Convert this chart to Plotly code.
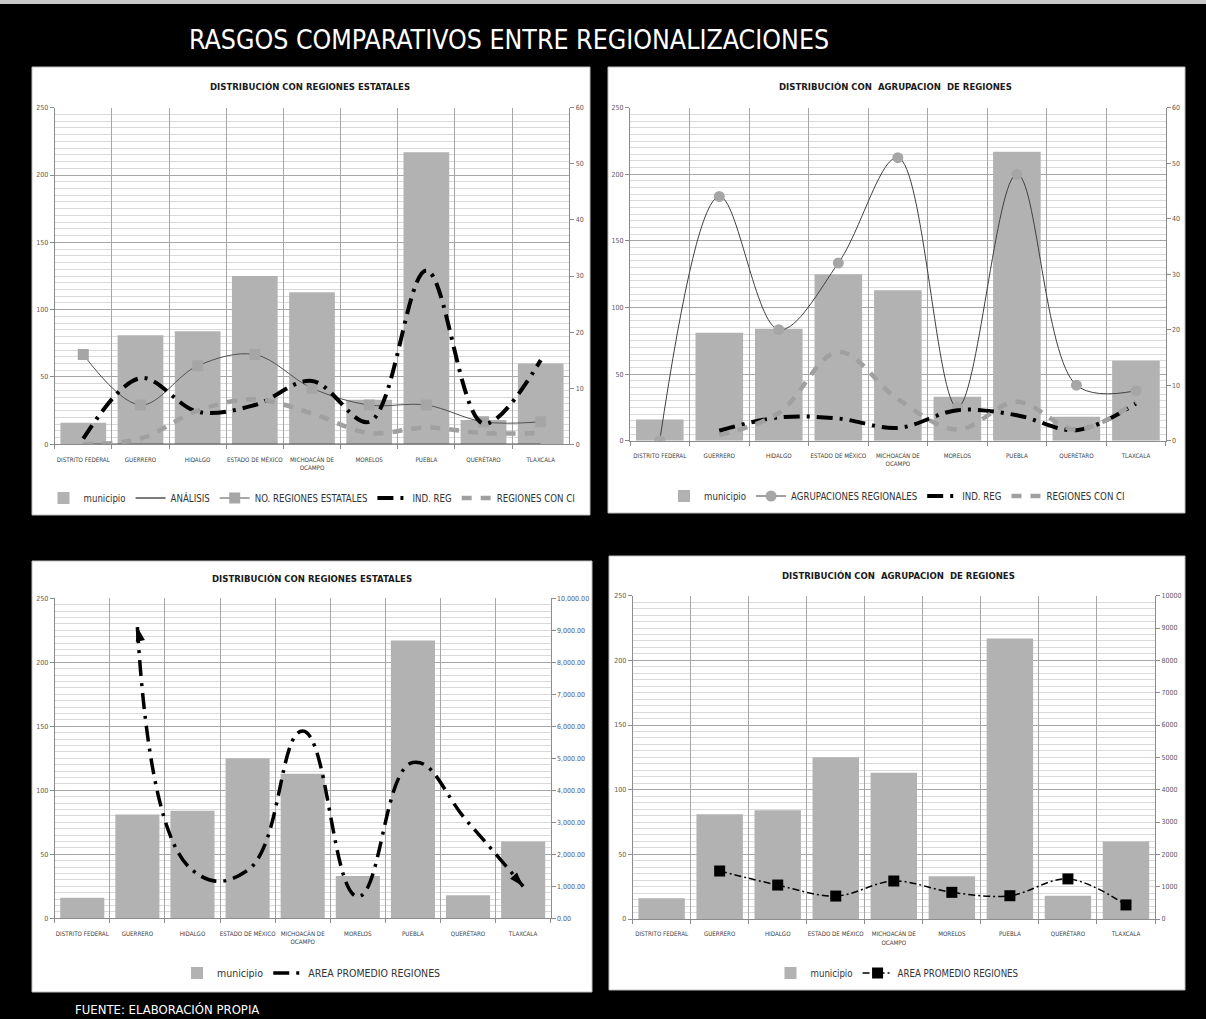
import plotly.graph_objects as go

W, H = 1206, 1019
FONT = "DejaVu Sans Condensed, Lato, sans-serif"

# ---------------- data ----------------
categories = ["DISTRITO FEDERAL", "GUERRERO", "HIDALGO", "ESTADO DE MÉXICO",
              "MICHOACÁN DE OCAMPO", "MORELOS", "PUEBLA", "QUERÉTARO", "TLAXCALA"]
tick_labels = ["DISTRITO FEDERAL", "GUERRERO", "HIDALGO", "ESTADO DE MÉXICO",
               "MICHOACÁN DE<br>OCAMPO", "MORELOS", "PUEBLA", "QUERÉTARO", "TLAXCALA"]

municipio = [16, 81, 84, 125, 113, 33, 217, 18, 60]

# panel 1: regiones estatales
analisis = [0, 0, 0, 0, 0, 0, 0, 0, 0]
no_regiones_estatales = [16, 7, 14, 16, 10, 7, 7, 4, 4]
ind_reg_estatal = [1, 11.8, 5.8, 7, 11.3, 4, 31, 3.7, 15]
regiones_ci_estatal = [0, 1, 6, 8, 5.5, 2, 3, 2, 2]

# panel 2: agrupacion de regiones
agrupaciones_regionales = [0, 44, 20, 32, 51, 6, 48, 10, 9]
ind_reg_agrup = [None, 1.8, 4.2, 4, 2.3, 5.5, 4.6, 1.9, 6.7]
regiones_ci_agrup = [None, 1, 5, 16, 7.5, 2, 7, 2, 7]

# panel 3 / 4: area promedio regiones
area_prom_estatal = [None, 9100, 1500, 1500, 5850, 680, 4870, 3000, 1000]
area_prom_agrup = [None, 1485, 1050, 710, 1175, 825, 720, 1240, 435]

main_title = "RASGOS COMPARATIVOS ENTRE REGIONALIZACIONES"
footer = "FUENTE: ELABORACIÓN PROPIA"
panel_titles = ["DISTRIBUCIÓN CON REGIONES ESTATALES",
                "DISTRIBUCIÓN CON\u00a0 AGRUPACION\u00a0 DE REGIONES",
                "DISTRIBUCIÓN CON REGIONES ESTATALES",
                "DISTRIBUCIÓN CON\u00a0 AGRUPACION\u00a0 DE REGIONES"]

# ---------------- layout geometry (pixels) ----------------
panel_boxes = [(32, 67, 590, 515), (608, 67, 1185, 513),
               (32, 561, 592, 992), (609, 556, 1185, 990)]
plot_boxes = [(54.7, 107.7, 569.3, 444.3), (630, 107.7, 1165.7, 440.7),
              (54.7, 598.3, 550.7, 918.3), (632.6, 595.7, 1155, 919)]
title_pos = [(310, 86), (896, 86), (312, 578), (898, 575)]
legend_pos = [(312, 498), (897, 496), (311.5, 973), (897, 973)]
legend_sizes = [9.6, 9.6, 10.5, 9.6]


def fx(v):
    return v / W


def fy(v):
    return 1 - v / H


fig = go.Figure()

BAR_C = "#b2b2b2"
GRAY_LINE = "#a0a0a0"
DARK = "#505050"
DASHDOT = "16px,7px,3px,7px"
DASH = "10px,9px"


def bar(i, leg):
    return go.Bar(x=tick_labels, y=municipio, name="municipio",
                  marker=dict(color=BAR_C, line=dict(width=0)),
                  xaxis=f"x{i}" if i > 1 else "x", yaxis=f"y{2*i-1}" if i > 1 else "y",
                  legend=leg, showlegend=True)


def sec(i):
    return dict(xaxis=f"x{i}" if i > 1 else "x", yaxis=f"y{2*i}")


# panel 1
fig.add_trace(bar(1, "legend"))
fig.add_trace(go.Scatter(x=tick_labels, y=analisis, name="ANÁLISIS", mode="lines",
                         line=dict(color=DARK, width=1.5), legend="legend", **sec(1)))
fig.add_trace(go.Scatter(x=tick_labels, y=no_regiones_estatales, name="NO. REGIONES ESTATALES",
                         mode="lines+markers", line=dict(color=DARK, width=1, shape="spline"),
                         marker=dict(symbol="square", size=11, color="#a6a6a6"),
                         legend="legend", **sec(1)))
fig.add_trace(go.Scatter(x=tick_labels, y=ind_reg_estatal, name="IND. REG", mode="lines",
                         line=dict(color="black", width=4, dash=DASHDOT, shape="spline"),
                         legend="legend", **sec(1)))
fig.add_trace(go.Scatter(x=tick_labels, y=regiones_ci_estatal, name="REGIONES CON CI", mode="lines",
                         line=dict(color=GRAY_LINE, width=4.5, dash=DASH, shape="spline"),
                         legend="legend", **sec(1)))

# panel 2
fig.add_trace(bar(2, "legend2"))
fig.add_trace(go.Scatter(x=tick_labels, y=agrupaciones_regionales, name="AGRUPACIONES REGIONALES",
                         mode="lines+markers", line=dict(color="#404040", width=1, shape="spline"),
                         marker=dict(symbol="circle", size=11, color="#a6a6a6"),
                         legend="legend2", **sec(2)))
fig.add_trace(go.Scatter(x=tick_labels, y=ind_reg_agrup, name="IND. REG", mode="lines",
                         line=dict(color="black", width=4, dash=DASHDOT, shape="spline"),
                         legend="legend2", **sec(2)))
fig.add_trace(go.Scatter(x=tick_labels, y=regiones_ci_agrup, name="REGIONES CON CI", mode="lines",
                         line=dict(color=GRAY_LINE, width=4.5, dash=DASH, shape="spline"),
                         legend="legend2", **sec(2)))

# panel 3
fig.add_trace(bar(3, "legend3"))
fig.add_trace(go.Scatter(x=tick_labels, y=area_prom_estatal, name="AREA PROMEDIO REGIONES", mode="lines",
                         line=dict(color="black", width=3.5, dash=DASHDOT, shape="spline",
                                   smoothing=1.3),
                         legend="legend3", **sec(3)))
valid = [k for k, v in enumerate(area_prom_estatal) if v is not None]
ends = [valid[0], valid[-1]]
fig.add_trace(go.Scatter(x=[tick_labels[k] for k in ends], y=[area_prom_estatal[k] for k in ends],
                         mode="markers", showlegend=False,
                         marker=dict(symbol="arrow", size=15, color="black", angle=[-12, 138],
                                     line=dict(width=0)),
                         legend="legend3", **sec(3)))

# panel 4
fig.add_trace(bar(4, "legend4"))
fig.add_trace(go.Scatter(x=tick_labels, y=area_prom_agrup, name="AREA PROMEDIO REGIONES",
                         mode="lines+markers",
                         line=dict(color="black", width=1.5, dash="7px,3px,2px,3px", shape="spline"),
                         marker=dict(symbol="square", size=11, color="black"),
                         legend="legend4", **sec(4)))

# ---------------- axes ----------------
sec_cfg = [dict(range=[0, 60], dtick=10), dict(range=[0, 60], dtick=10),
           dict(range=[0, 10000], dtick=1000, tickformat=",.2f"),
           dict(range=[0, 10000], dtick=1000, tickformat="d")]

tickfont = dict(family=FONT, size=7, color="#595959")
layout = {}
for i in range(4):
    n = i + 1
    x0, y0, x1, y1 = plot_boxes[i]
    xk = "xaxis" if n == 1 else f"xaxis{n}"
    yl = "yaxis" if n == 1 else f"yaxis{2*n-1}"
    yr = f"yaxis{2*n}"
    xa_id = "x" if n == 1 else f"x{n}"
    yl_id = "y" if n == 1 else f"y{2*n-1}"
    layout[xk] = dict(domain=[fx(x0), fx(x1)], anchor=yl_id, type="category",
                      tickson="boundaries", showgrid=True, gridcolor="#a6a6a6", gridwidth=1,
                      showline=True, linecolor="#8c8c8c", ticks="outside", ticklen=4,
                      tickcolor="#8c8c8c", tickangle=0, ticklabelstandoff=9,
                      tickfont=dict(family=FONT, size=6.2, color="#404040"),
                      range=[-0.5, 8.5], fixedrange=True)
    layout[yl] = dict(domain=[fy(y1), fy(y0)], anchor=xa_id, range=[0, 250], dtick=50,
                      showgrid=True, gridcolor="#a6a6a6", gridwidth=1,
                      minor=dict(dtick=5, showgrid=True, gridcolor="#d9d9d9", gridwidth=1),
                      showline=True, linecolor="#8c8c8c", ticks="outside", ticklen=4,
                      tickcolor="#8c8c8c", tickfont=tickfont, zeroline=False)
    cfg = sec_cfg[i]
    layout[yr] = dict(overlaying=yl_id, side="right", anchor=xa_id, showgrid=False,
                      showline=True, linecolor="#8c8c8c", ticks="outside", ticklen=4,
                      tickcolor="#8c8c8c", tickfont=tickfont, zeroline=False, **cfg)
    lk = "legend" if n == 1 else f"legend{n}"
    lx, ly = legend_pos[i]
    layout[lk] = dict(x=fx(lx), y=fy(ly), xanchor="center", yanchor="middle",
                      orientation="h", bgcolor="rgba(0,0,0,0)", itemwidth=30,
                      font=dict(family=FONT, size=legend_sizes[i], color="#333333"),
                      traceorder="normal")

shapes = [dict(type="rect", xref="paper", yref="paper", x0=0, x1=1, y0=fy(4), y1=1,
               fillcolor="#c8c8c8", line=dict(width=0), layer="below")]
for (x0, y0, x1, y1) in panel_boxes:
    shapes.append(dict(type="rect", xref="paper", yref="paper",
                       x0=fx(x0), x1=fx(x1), y0=fy(y1), y1=fy(y0),
                       fillcolor="white", line=dict(color="#bfbfbf", width=1), layer="below"))

annotations = [dict(text=main_title, x=fx(509), y=fy(40), xref="paper", yref="paper",
                    showarrow=False, xanchor="center", yanchor="middle",
                    font=dict(family=FONT, size=26.5, color="white")),
               dict(text=footer, x=fx(73), y=0, xref="paper", yref="paper",
                    showarrow=False, xanchor="left", yanchor="bottom",
                    font=dict(family=FONT, size=13, color="white"))]
for t, (tx, ty) in zip(panel_titles, title_pos):
    annotations.append(dict(text=f"<b>{t}</b>", x=fx(tx), y=fy(ty), xref="paper", yref="paper",
                            showarrow=False, xanchor="center", yanchor="middle",
                            font=dict(family=FONT, size=9.5, color="#1a1a1a")))

fig.update_layout(width=W, height=H, margin=dict(l=0, r=0, t=0, b=0, autoexpand=False),
                  autosize=False,
                  paper_bgcolor="black", plot_bgcolor="white", bargap=0.2,
                  shapes=shapes, annotations=annotations, **layout)

fig.write_html("out.html")
